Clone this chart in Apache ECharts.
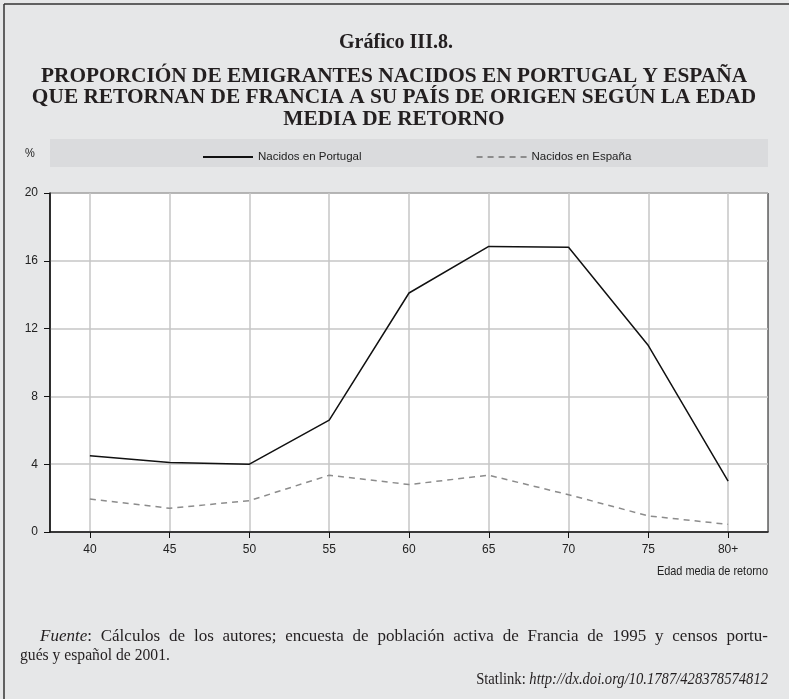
<!DOCTYPE html>
<html>
<head>
<meta charset="utf-8">
<script src="https://cdn.jsdelivr.net/npm/echarts@6/dist/echarts.min.js"></script>
<style>
  html, body { margin: 0; padding: 0; background: #e6e7e8; }
  #chart { width: 789px; height: 699px; }
</style>
</head>
<body>
<div id="chart"></div>
<script>
// Edad media de retorno (categorías del eje X)
const categories = ['40', '45', '50', '55', '60', '65', '70', '75', '80+'];
// Proporción (%) de emigrantes que retornan, por país de nacimiento
const nacidosPortugal = [4.5, 4.1, 4.0, 6.6, 14.1, 16.85, 16.8, 11.0, 3.0];
const nacidosEspana = [1.95, 1.4, 1.85, 3.35, 2.8, 3.35, 2.2, 0.95, 0.45];
// Escala del eje Y
const yMin = 0, yMax = 20, yStep = 4;

const serif = "'Liberation Serif', 'Times New Roman', serif";
const sans = "'Liberation Sans', Arial, sans-serif";
const ink = '#231f20';
const noteSize = 17;

// Medición de texto para justificar la primera línea de la nota
const measureCtx = document.createElement('canvas').getContext('2d');
function textWidth(text, font) {
  measureCtx.font = font;
  return measureCtx.measureText(text).width;
}

function justifiedLine(words, x0, x1, y, size, sx) {
  const regular = size + 'px ' + serif;
  const italic = 'italic ' + size + 'px ' + serif;
  const widths = words.map(function (w) {
    const raw = w.italic ? textWidth(w.italic, italic) + textWidth(w.rest, regular) : textWidth(w.text, regular);
    return raw * sx;
  });
  const total = widths.reduce(function (a, b) { return a + b; }, 0);
  const gap = (x1 - x0 - total) / (words.length - 1);
  const out = [];
  let x = x0;
  words.forEach(function (w, i) {
    const style = w.italic
      ? { text: '{i|' + w.italic + '}' + w.rest, font: regular, fill: ink, verticalAlign: 'middle',
          rich: { i: { fontStyle: 'italic', fontFamily: serif, fontSize: size, fill: ink } } }
      : { text: w.text, font: regular, fill: ink, verticalAlign: 'middle' };
    out.push({ type: 'text', x: x, y: y, scaleX: sx, style: style });
    x += widths[i] + gap;
  });
  return out;
}

const fuenteWords = [{ italic: 'Fuente', rest: ':' }].concat(
  'Cálculos de los autores; encuesta de población activa de Francia de 1995 y censos portu-'
    .split(' ').map(function (t) { return { text: t }; })
);

const titleFont = 'bold 22px ' + serif;

const chart = echarts.init(document.getElementById('chart'), null, { renderer: 'canvas' });

chart.setOption({
  backgroundColor: '#e6e7e8',
  animation: false,
  graphic: [
    // marco exterior
    { type: 'line', shape: { x1: 4, y1: 4, x2: 4, y2: 699 }, style: { stroke: '#333', lineWidth: 1.5 } },
    { type: 'line', shape: { x1: 4, y1: 4, x2: 789, y2: 4 }, style: { stroke: '#333', lineWidth: 1.5 } },
    // franja de la leyenda
    { type: 'rect', shape: { x: 50, y: 139, width: 718, height: 28 }, style: { fill: '#dadbdd' }, z: -1 },
    // títulos
    { type: 'text', x: 396, y: 43, style: { text: 'Gráfico III.8.', font: 'bold 20px ' + serif, fill: ink, align: 'center', verticalAlign: 'middle' } },
    { type: 'text', x: 394, y: 76, scaleX: 0.97, style: { text: 'PROPORCIÓN DE EMIGRANTES NACIDOS EN PORTUGAL Y ESPAÑA', font: titleFont, fill: ink, align: 'center', verticalAlign: 'middle' } },
    { type: 'text', x: 394, y: 97.5, scaleX: 0.97, style: { text: 'QUE RETORNAN DE FRANCIA A SU PAÍS DE ORIGEN SEGÚN LA EDAD', font: titleFont, fill: ink, align: 'center', verticalAlign: 'middle' } },
    { type: 'text', x: 394, y: 119, scaleX: 0.97, style: { text: 'MEDIA DE RETORNO', font: titleFont, fill: ink, align: 'center', verticalAlign: 'middle' } },
    // unidad del eje Y
    { type: 'text', x: 30, y: 153, scaleX: 0.85, style: { text: '%', font: '13px ' + sans, fill: '#222', align: 'center', verticalAlign: 'middle' } },
    // título del eje X
    { type: 'text', x: 768, y: 571, scaleX: 0.84, style: { text: 'Edad media de retorno', font: '13px ' + sans, fill: '#222', align: 'right', verticalAlign: 'middle' } },
    // nota de fuente
    { type: 'text', x: 20, y: 656, scaleX: 0.92, style: { text: 'gués y español de 2001.', font: noteSize + 'px ' + serif, fill: ink, verticalAlign: 'middle' } },
    { type: 'text', x: 768, y: 680, scaleX: 0.86, style: {
        text: 'Statlink: {i|http://dx.doi.org/10.1787/428378574812}',
        font: noteSize + 'px ' + serif, fill: ink, align: 'right', verticalAlign: 'middle',
        rich: { i: { fontStyle: 'italic', fontFamily: serif, fontSize: noteSize, fill: ink } } } }
  ].concat(justifiedLine(fuenteWords, 40, 768, 637, noteSize, 1)),
  legend: {
    left: 197, top: 146,
    itemWidth: 50, itemHeight: 14, itemGap: 114,
    itemStyle: { opacity: 0 },
    textStyle: { fontFamily: sans, fontSize: 11.5, color: '#222' },
    data: ['Nacidos en Portugal', 'Nacidos en España']
  },
  grid: {
    left: 50, right: 21, top: 193, bottom: 167,
    show: true, backgroundColor: '#ffffff', borderColor: '#111', borderWidth: 1
  },
  xAxis: {
    type: 'category',
    data: categories,
    boundaryGap: true,
    axisLine: { lineStyle: { color: '#111', width: 1.5 } },
    axisTick: { show: true, alignWithLabel: true, length: 6, lineStyle: { color: '#111', width: 1 } },
    axisLabel: { fontFamily: sans, fontSize: 12, color: '#222', margin: 12 },
    splitLine: { show: true, alignWithLabel: true, lineStyle: { color: '#c6c6c6', width: 1.5 } }
  },
  yAxis: {
    type: 'value',
    min: yMin, max: yMax, interval: yStep,
    axisLine: { show: true, lineStyle: { color: '#111', width: 1.5 } },
    axisTick: { show: true, length: 6, lineStyle: { color: '#111', width: 1 } },
    axisLabel: { fontFamily: sans, fontSize: 12, color: '#222', margin: 12 },
    splitLine: { show: true, lineStyle: { color: '#c6c6c6', width: 1.5 } }
  },
  series: [
    {
      name: 'Nacidos en Portugal',
      type: 'line',
      data: nacidosPortugal,
      symbol: 'none',
      lineStyle: { color: '#111', width: 1.5 },
      itemStyle: { color: '#111' },
      z: 5
    },
    {
      name: 'Nacidos en España',
      type: 'line',
      data: nacidosEspana,
      symbol: 'none',
      lineStyle: { color: '#8c8c8c', width: 1.5, type: [6, 5] },
      itemStyle: { color: '#8c8c8c' },
      z: 4
    }
  ]
});
</script>
</body>
</html>
